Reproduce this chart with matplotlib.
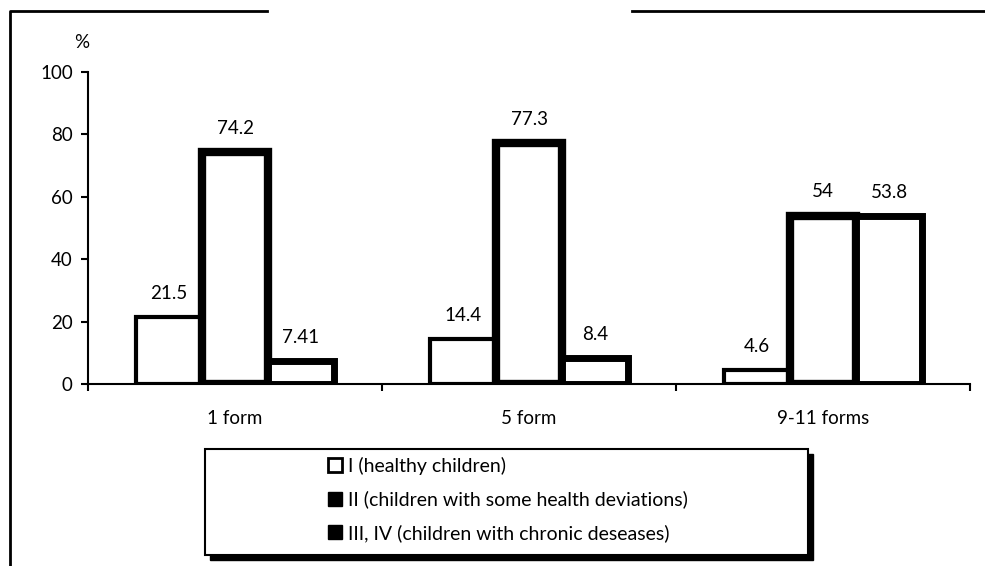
import matplotlib
matplotlib.use('Agg')
import matplotlib.pyplot as plt
from matplotlib.patches import Patch, Rectangle
from matplotlib.lines import Line2D
import numpy as np

plt.rcParams['font.family'] = ['Lato', 'DejaVu Sans']

# data
categories = ['1 form', '5 form', '9-11 forms']
series_names = ['I (healthy children)',
                'II (children with some health deviations)',
                'III, IV (children with chronic deseases)']
group_I = [21.5, 14.4, 4.6]
group_II = [74.2, 77.3, 54]
group_III = [7.41, 8.4, 53.8]
value_labels = [['21.5', '14.4', '4.6'],
                ['74.2', '77.3', '54'],
                ['7.41', '8.4', '53.8']]

fig = plt.figure(figsize=(9.85, 5.66), dpi=100)
ax = fig.add_axes([88/985, 1-384/566, (970-88)/985, (384-72)/566])

x = np.arange(len(categories))
w = 66/294
edge_w = [3, 6, 5]
for i, vals in enumerate([group_I, group_II, group_III]):
    bars = ax.bar(x + (i-1)*w, vals, w, facecolor='white', edgecolor='black',
                  linewidth=edge_w[i], zorder=2)
    for b, lab in zip(bars, value_labels[i]):
        ax.annotate(lab, (b.get_x() + b.get_width()/2, b.get_height()),
                    xytext=(0, 17), textcoords='offset points',
                    ha='center', va='center', fontsize=13.5)

ax.set_xlim(-0.5, 2.5)
ax.set_ylim(0, 100)
ax.set_yticks(range(0, 101, 20))
ax.set_xticks(x)
ax.set_xticklabels(categories)
ax.set_xticks([-0.5, 0.5, 1.5, 2.5], minor=True)
ax.tick_params(axis='x', which='major', length=0, pad=19, labelsize=13.5)
ax.tick_params(axis='x', which='minor', length=5, width=1.5, direction='out')
ax.tick_params(axis='y', length=5, width=1.5, pad=6, labelsize=13.5)
for s in ['top', 'right']:
    ax.spines[s].set_visible(False)
for s in ['left', 'bottom']:
    ax.spines[s].set_linewidth(1.5)
ax.spines['bottom'].set_zorder(3)

fig.text(82/985, 1-42/566, '%', ha='center', va='center', fontsize=13.5)

# outer frame (partial)
fig.add_artist(Line2D([10/985, 10/985, 267/985], [0, 1-11/566, 1-11/566],
                      transform=fig.transFigure, color='black', lw=2))
fig.add_artist(Line2D([632/985, 1], [1-11/566, 1-11/566],
                      transform=fig.transFigure, color='black', lw=2))

# legend box with shadow
lx, ly, lw_, lh = 205/985, 1-555/566, 603/985, 106/566
fig.add_artist(Rectangle((lx + 5/985, ly - 5/566), lw_, lh, transform=fig.transFigure,
                         facecolor='black', edgecolor='black', zorder=4))
fig.add_artist(Rectangle((lx, ly), lw_, lh, transform=fig.transFigure,
                         facecolor='white', edgecolor='black', lw=1.5, zorder=5))
handles = [Patch(facecolor='white', edgecolor='black', lw=2),
           Patch(facecolor='black', edgecolor='black'),
           Patch(facecolor='black', edgecolor='black')]
leg = fig.legend(handles, series_names, loc='upper left',
                 bbox_to_anchor=(328/985, 1-457/566), frameon=False,
                 fontsize=14, handlelength=0.72, handleheight=0.72,
                 handletextpad=0.3, labelspacing=0.8, borderpad=0, borderaxespad=0)
leg.set_zorder(6)

fig.savefig('out.png', dpi=100)
